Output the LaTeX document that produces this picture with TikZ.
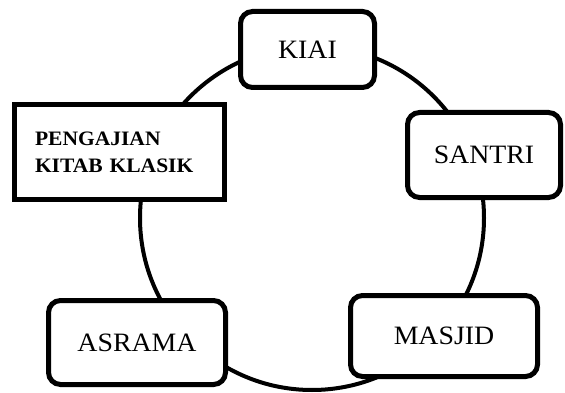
\documentclass[tikz,border=0pt]{standalone}
\usepackage{fontspec}
\setmainfont[FakeStretch=1.05]{Liberation Serif}
\begin{document}
\begin{tikzpicture}[x=1pt,y=-1pt,
  ringline/.style={draw=black,line width=4pt,circle,minimum size=344pt,inner sep=0pt},
  roundbox/.style={draw=black,fill=white,line width=5pt,rounded corners=12pt,inner sep=0pt,
    font=\fontsize{26.5}{30}\selectfont},
  sharpbox/.style={draw=black,fill=white,line width=5pt,inner sep=0pt,
    font=\fontsize{20.5}{27}\selectfont\bfseries,align=left}]
\useasboundingbox (0,0) rectangle (565,393);
\node[ringline] (ring) at (312,218) {};
\node[roundbox,minimum width=134pt,minimum height=76pt] (kiai) at (307.5,49.5) {KIAI};
\node[roundbox,minimum width=153pt,minimum height=85pt] (santri) at (484,155) {SANTRI};
\node[roundbox,minimum width=187pt,minimum height=81pt] (masjid) at (444,336) {MASJID};
\node[roundbox,minimum width=177pt,minimum height=84pt] (asrama) at (137,342.5) {ASRAMA};
\node[sharpbox,minimum width=210pt,minimum height=94pt,text width=169pt] (kitab) at (119.5,152) {PENGAJIAN\\KITAB KLASIK};
\end{tikzpicture}
\end{document}
